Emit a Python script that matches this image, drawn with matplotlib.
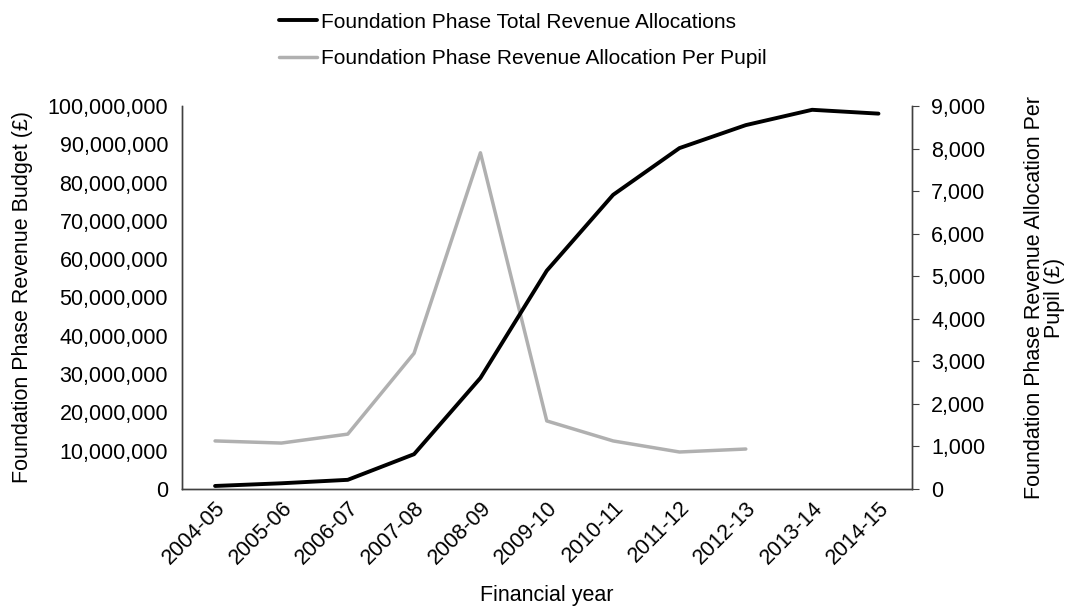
import matplotlib
matplotlib.use("Agg")
import matplotlib.pyplot as plt
from matplotlib.ticker import FuncFormatter

plt.rcParams['font.family'] = ['Liberation Sans', 'DejaVu Sans']

years = ["2004-05", "2005-06", "2006-07", "2007-08", "2008-09", "2009-10",
         "2010-11", "2011-12", "2012-13", "2013-14", "2014-15"]
total_revenue = [800000, 1500000, 2400000, 9100000, 29000000, 57000000,
                 76800000, 89000000, 95000000, 99000000, 98000000]
per_pupil = [1130, 1080, 1290, 3190, 7900, 1600, 1130, 870, 940]

FS = 15.5

fig = plt.figure(figsize=(10.7, 6.09), dpi=100)
ax = fig.add_axes([0.170, 0.197, 0.682, 0.629])
ax2 = ax.twinx()

x = list(range(len(years)))
l1, = ax.plot(x, total_revenue, color='black', lw=2.8, solid_capstyle='round',
              label='Foundation Phase Total Revenue Allocations', zorder=3)
l2, = ax2.plot(x[:len(per_pupil)], per_pupil, color='#b0b0b0', lw=2.5,
               solid_capstyle='round',
               label='Foundation Phase Revenue Allocation Per Pupil')
ax.set_zorder(ax2.get_zorder() + 1)
ax.patch.set_visible(False)

ax.set_xlim(-0.5, len(years) - 0.5)
ax.set_ylim(0, 100000000)
ax.set_yticks(range(0, 100000001, 10000000))
ax.yaxis.set_major_formatter(FuncFormatter(lambda v, p: f"{int(v):,}"))
ax2.set_ylim(0, 9000)
ax2.set_yticks(range(0, 9001, 1000))
ax2.yaxis.set_major_formatter(FuncFormatter(lambda v, p: f"{int(v):,}"))

ax.set_xticks(x)
ax.set_xticklabels(years, rotation=45, ha='right', rotation_mode='anchor', fontsize=FS)
ax.tick_params(axis='x', length=0, pad=6)
ax.tick_params(axis='y', length=0, labelsize=FS, pad=10)
ax2.tick_params(axis='y', length=5, labelsize=FS, pad=9, color='#404040')

for a in (ax, ax2):
    a.spines['top'].set_visible(False)
    for s in ('left', 'bottom', 'right'):
        a.spines[s].set_color('#404040')
        a.spines[s].set_linewidth(1.0)

ax.set_xlabel('Financial year', fontsize=FS, labelpad=12)
ax.set_ylabel('Foundation Phase Revenue Budget (£)', fontsize=FS, labelpad=10)
ax2.set_ylabel('Foundation Phase Revenue Allocation Per\nPupil (£)', fontsize=FS,
               rotation=90, labelpad=28, linespacing=0.95)
ax2.yaxis.set_label_position('right')

fig.legend(handles=[l1, l2], loc='upper left', bbox_to_anchor=(0.249, 1.0),
           frameon=False, fontsize=FS - 0.5, handlelength=1.85, handletextpad=0.15,
           labelspacing=0.85, borderaxespad=0.2)

fig.savefig('out.png', dpi=100)
